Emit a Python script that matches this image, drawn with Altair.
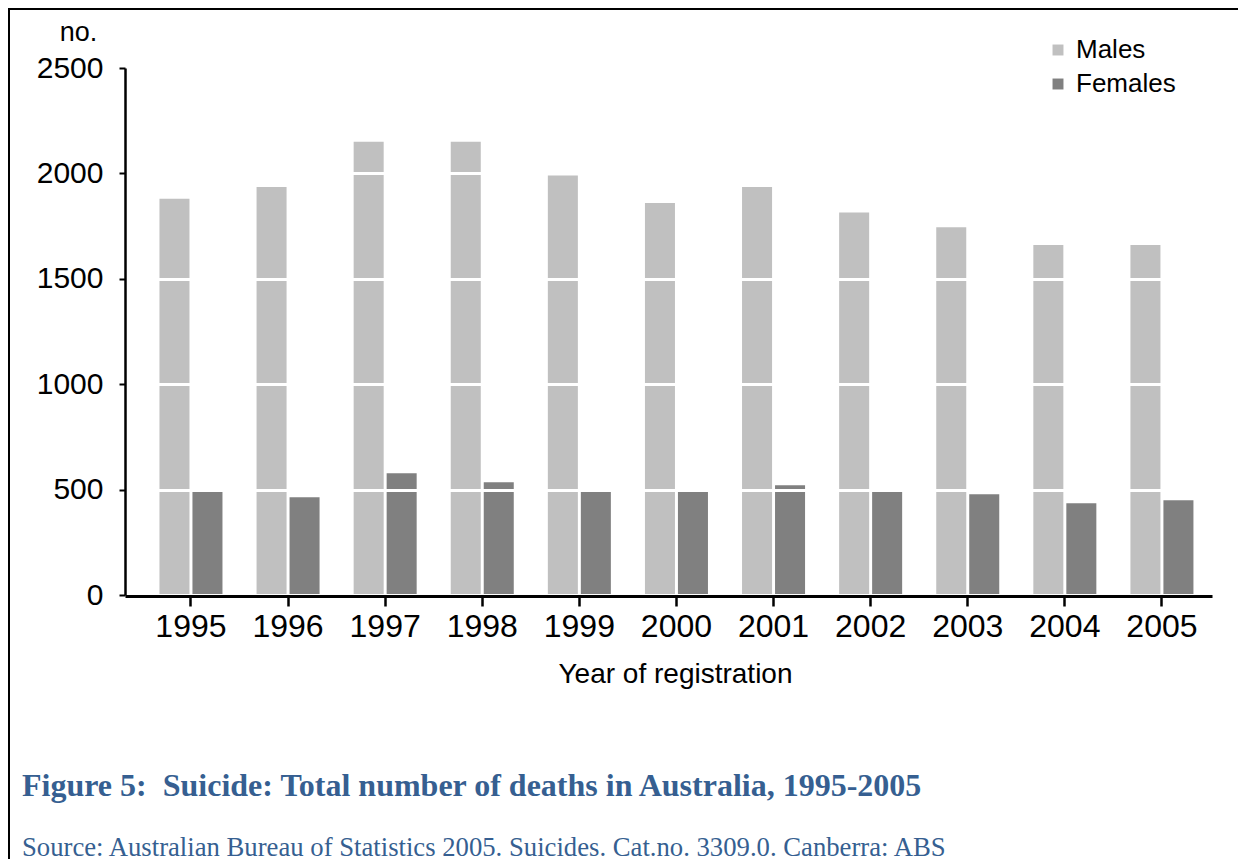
import altair as alt
import pandas as pd

years = ["1995", "1996", "1997", "1998", "1999", "2000", "2001", "2002", "2003", "2004", "2005"]
males = [1880, 1935, 2150, 2150, 1990, 1860, 1935, 1815, 1745, 1660, 1660]
females = [497, 464, 578, 535, 497, 497, 521, 497, 478, 435, 449]
series = ["Males", "Females"]
colors = ["#C0C0C0", "#808080"]
y_ticks = [0, 500, 1000, 1500, 2000, 2500]

title_text = "Figure 5:\u00a0 Suicide: Total number of deaths in Australia, 1995-2005"
source_text = "Source: Australian Bureau of Statistics 2005. Suicides. Cat.no. 3309.0. Canberra: ABS"

rows = []
for i, yr in enumerate(years):
    rows.append({"year": yr, "sex": "Males", "deaths": males[i]})
    rows.append({"year": yr, "sex": "Females", "deaths": females[i]})
df = pd.DataFrame(rows)

FONT = "Liberation Sans"
W, H = 1087, 527
PL, PT, PR, PB = 117, 60, 26, 264

bars = alt.Chart(df).mark_bar().encode(
    x=alt.X("year:N", sort=years,
            scale=alt.Scale(paddingInner=0.351, paddingOuter=0.273, align=0.65),
            axis=alt.Axis(title="Year of registration", labelAngle=0, labelFont=FONT,
                          labelFontSize=32, labelColor="black", labelPadding=5,
                          tickSize=10, tickWidth=2.5, tickColor="black",
                          domainColor="black", domainWidth=3, offset=1,
                          titleFont=FONT, titleFontSize=28, titleFontWeight="normal",
                          titleColor="black", titleBaseline="alphabetic", titleY=86,
                          titleX=550, titleAlign="center",
                          grid=False, zindex=2)),
    xOffset=alt.XOffset("sex:N", sort=series,
                        scale=alt.Scale(paddingInner=0.09, paddingOuter=0)),
    y=alt.Y("deaths:Q",
            scale=alt.Scale(domain=[0, 2500], nice=False),
            axis=alt.Axis(title="no.", values=y_ticks, format="d", labelFont=FONT,
                          labelFontSize=30, labelColor="black", labelPadding=16,
                          tickSize=6, tickWidth=2,
                          tickColor="black", domainColor="black", domainWidth=2.5,
                          grid=True, gridColor="white", gridWidth=3, gridOpacity=1,
                          titleFont=FONT, titleFontSize=27, titleFontWeight="normal",
                          titleColor="black", titleAngle=0, titleAlign="center",
                          titleBaseline="alphabetic", titleX=-47, titleY=-28, zindex=1)),
    color=alt.Color("sex:N", sort=series,
                    scale=alt.Scale(domain=series, range=colors),
                    legend=alt.Legend(title=None, orient="none", legendX=920, legendY=-31,
                                      symbolType="square", symbolSize=120,
                                      symbolStrokeWidth=0, labelFont=FONT,
                                      labelFontSize=26, labelColor="black",
                                      labelOffset=5, rowPadding=8, padding=0)),
)

one = pd.DataFrame({"k": [0]})

border_top = alt.Chart(one).mark_rule(color="black", strokeWidth=2).encode(
    x=alt.value(-PL), x2=alt.value(W + PR), y=alt.value(-PT + 1))
border_left = alt.Chart(one).mark_rule(color="black", strokeWidth=2).encode(
    x=alt.value(-PL + 1), y=alt.value(-PT), y2=alt.value(H + PB))

title = alt.Chart(one).mark_text(
    text=title_text, font="Liberation Serif", fontSize=32, fontWeight="bold",
    color="#365F91", align="left", baseline="alphabetic"
).encode(x=alt.value(-103), y=alt.value(728))

source = alt.Chart(one).mark_text(
    text=source_text, font="Liberation Serif", fontSize=26.7, fontWeight="normal",
    color="#365F91", align="left", baseline="alphabetic"
).encode(x=alt.value(-103), y=alt.value(788))

chart = alt.layer(bars, border_top, border_left, title, source).properties(
    width=W, height=H,
    padding={"left": PL, "top": PT, "right": PR, "bottom": PB},
    autosize=alt.AutoSizeParams(type="none"),
).configure(background="white").configure_view(stroke="transparent", strokeWidth=0)

chart.save("out.html", embed_options={"renderer": "svg", "actions": False})
